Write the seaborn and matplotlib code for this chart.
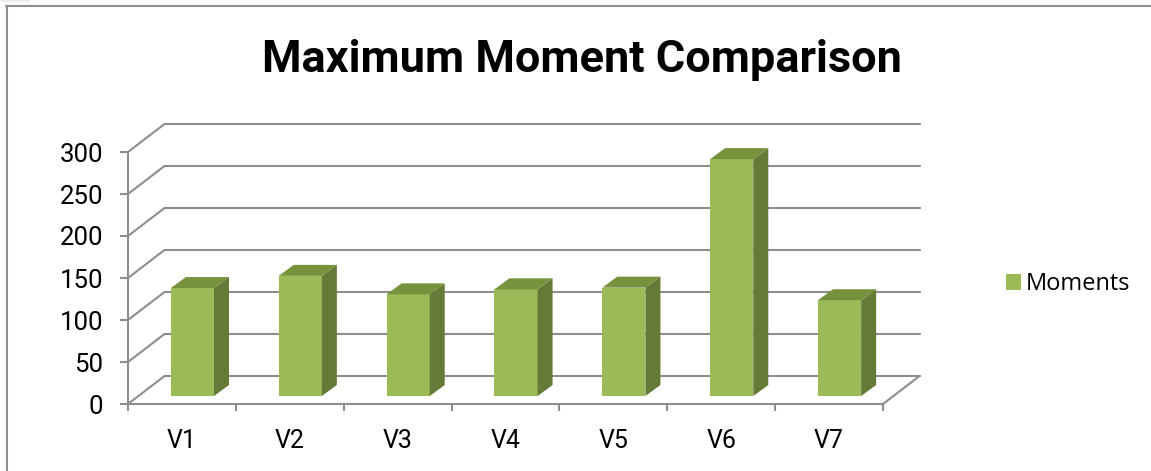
import pandas as pd
import matplotlib
matplotlib.use("Agg")
import matplotlib.pyplot as plt
from matplotlib.patches import Polygon, Rectangle
from matplotlib.transforms import Affine2D
import seaborn as sns

categories = ["V1", "V2", "V3", "V4", "V5", "V6", "V7"]
moments = [128.5, 143, 121, 127, 129, 282, 114]
y_ticks = [0, 50, 100, 150, 200, 250, 300]
series_name = "Moments"
title_text = "Maximum Moment Comparison"

W, H = 1151, 471
GRID = "#8e8e8e"
FRONT = "#9bbb59"
TOP = "#76923c"
SIDE = "#647a36"
LW = 1.5

sns.set_theme(style="white")
plt.rcParams["font.family"] = ["Roboto", "Liberation Sans", "DejaVu Sans"]

fig = plt.figure(figsize=(W / 100, H / 100), dpi=100)
# axes box = front plane of the fake 3d chart, pixels from the picture
ax = fig.add_axes([128 / W, (H - 404) / H, (883 - 128) / W, (404 - 152) / H])

df = pd.DataFrame({"cat": categories, "val": moments})
sns.barplot(data=df, x="cat", y="val", color=FRONT, saturation=1, width=0.4,
            label=series_name, ax=ax, zorder=5, legend=False)
ax.set_xlim(-0.5, 6.5)
ax.set_ylim(0, 300)
ax.set_xlabel("")
ax.set_ylabel("")
sns.despine(ax=ax, top=True, right=True)
for s in ["left", "bottom"]:
    ax.spines[s].set_color(GRID)
    ax.spines[s].set_linewidth(LW)

ax.set_yticks(y_ticks)
ax.set_xticks(range(len(categories)), categories)
ax.set_xticks([i - 0.5 for i in range(len(categories) + 1)], minor=True)
ax.tick_params(axis="y", left=True, length=6, width=LW, color=GRID, pad=12,
               labelsize=18.5, labelcolor="black")
ax.tick_params(axis="x", which="major", bottom=False, pad=12, labelsize=18,
               labelcolor="black")
ax.tick_params(axis="x", which="minor", bottom=True, length=5, width=LW, color=GRID)

# walls: back gridlines + diagonals, shifted in pixels from the data position
back = ax.transData + Affine2D().translate(36.5, 28)
for v in y_ticks:
    ax.plot([-0.5, 6.5], [v, v], color=GRID, lw=LW, transform=back,
            clip_on=False, zorder=1)
    p0 = ax.transData.transform((-0.5, v))
    ax.plot([p0[0], p0[0] + 36.5], [p0[1], p0[1] + 28], color=GRID, lw=LW,
            transform=None, clip_on=False, zorder=1)
p1 = ax.transData.transform((6.5, 0))
ax.plot([p1[0], p1[0] + 36.5], [p1[1], p1[1] + 28], color=GRID, lw=LW,
        transform=None, clip_on=False, zorder=1)

# bars sit a bit inside the floor, then get a top and side face
DX, DY = 10.5, 8
DEPTH_X, DEPTH_Y = 15, 11
shift = ax.transData + Affine2D().translate(DX, DY)
for bar in list(ax.patches):
    bar.set_transform(shift)
    bar.set_clip_on(False)
    bar.set_edgecolor("none")
    x0 = bar.get_x()
    x1 = x0 + bar.get_width()
    top = bar.get_height()
    (ax0, ay0), (ax1, ay1) = shift.transform([(x0, 0), (x1, top)])
    side = Polygon([(ax1, ay0), (ax1 + DEPTH_X, ay0 + DEPTH_Y),
                    (ax1 + DEPTH_X, ay1 + DEPTH_Y), (ax1, ay1)],
                   closed=True, fc=SIDE, ec="none", transform=None,
                   clip_on=False, zorder=5)
    lid = Polygon([(ax0, ay1), (ax0 + DEPTH_X, ay1 + DEPTH_Y),
                   (ax1 + DEPTH_X, ay1 + DEPTH_Y), (ax1, ay1)],
                  closed=True, fc=TOP, ec="none", transform=None,
                  clip_on=False, zorder=5)
    ax.add_artist(side)
    ax.add_artist(lid)

handle = Rectangle((0, 0), 1, 1, fc=FRONT, ec="none")
leg = fig.legend([handle], [series_name], loc="center left",
                 bbox_to_anchor=(1006 / W, (H - 284) / H), frameon=False,
                 handlelength=0.65, handleheight=0.65, handletextpad=0.2,
                 borderpad=0, borderaxespad=0, labelcolor="black",
                 prop={"family": "Open Sans", "size": 17})

fig.text(582 / W, (H - 72) / H, title_text, ha="center", va="baseline",
         fontsize=32.5, fontweight="bold", color="black")

# outer chart frame, only left and top are in the crop
fig.add_artist(plt.Line2D([6.5 / W, 6.5 / W], [0, (H - 5.5) / H], color=GRID, lw=1.5))
fig.add_artist(plt.Line2D([6 / W, 1], [(H - 5.5) / H, (H - 5.5) / H], color=GRID, lw=1.5))
fig.add_artist(Rectangle((0, (H - 2) / H), 30 / W, 2 / H, fc="#ececec", ec="none",
                         transform=fig.transFigure))

fig.savefig("out.png", dpi=100)
